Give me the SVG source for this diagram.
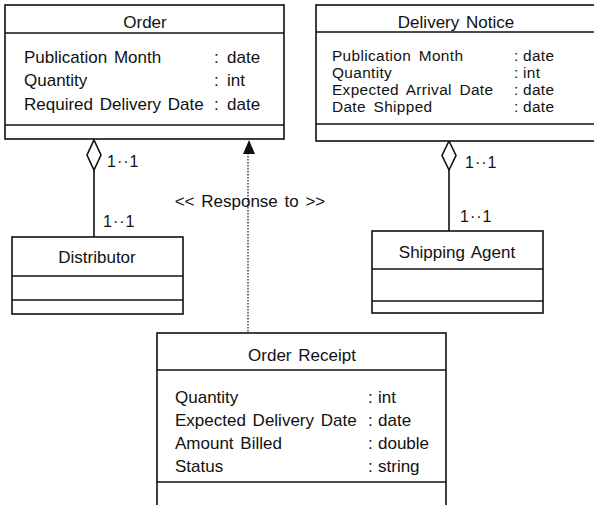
<svg xmlns="http://www.w3.org/2000/svg" width="594" height="505" viewBox="0 0 594 505">
<style>
  .box { fill: #fff; stroke: #111; stroke-width: 1.6; }
  .div { stroke: #111; stroke-width: 1.4; }
  .t { font-family: "Liberation Sans", Arial, sans-serif; font-size: 17px; fill: #111; word-spacing: 2px; }
  .s { font-family: "Liberation Sans", Arial, sans-serif; font-size: 15.4px; fill: #111; word-spacing: 3px; letter-spacing: 0.35px; }
  .c { text-anchor: middle; }
  .m { font-family: "Liberation Sans", Arial, sans-serif; font-size: 16px; fill: #111; letter-spacing: 1px; }
  .line { stroke: #111; stroke-width: 1.6; fill: none; }
  .dot { stroke: #111; stroke-width: 1.2; stroke-dasharray: 1.5 1.5; fill: none; }
  .diamond { fill: #fff; stroke: #111; stroke-width: 1.6; }
</style>
<rect width="594" height="505" fill="#fff"/>

<g id="connectors">
  <line class="line" x1="94" y1="170" x2="94" y2="237"/>
  <polygon class="diamond" points="94,140 101,155 94,170 87,155"/>
  <text class="m" x="107" y="167">1··1</text>
  <text class="m" x="103" y="227">1··1</text>

  <line class="line" x1="449" y1="170" x2="449" y2="231"/>
  <polygon class="diamond" points="449,141 456,155.5 449,170 442,155.5"/>
  <text class="m" x="465" y="168">1··1</text>
  <text class="m" x="460" y="222">1··1</text>

  <line class="dot" x1="248" y1="153" x2="248" y2="333"/>
  <path d="M243,154 L249,140 L255,154 Z" fill="#111"/>
  <text class="t c" x="250" y="207">&lt;&lt; Response to &gt;&gt;</text>
</g>

<g id="order">
  <rect class="box" x="5" y="5" width="279" height="134"/>
  <line class="div" x1="5" y1="33" x2="284" y2="33"/>
  <line class="div" x1="5" y1="125" x2="284" y2="125"/>
  <text class="t c" x="145" y="28">Order</text>
  <text class="t" x="24" y="63">Publication Month</text>
  <text class="t" x="24" y="86">Quantity</text>
  <text class="t" x="24" y="110">Required Delivery Date</text>
  <text class="t" x="214" y="63">:</text>
  <text class="t" x="214" y="86">:</text>
  <text class="t" x="214" y="110">:</text>
  <text class="t" x="227" y="63">date</text>
  <text class="t" x="227" y="86">int</text>
  <text class="t" x="227" y="110">date</text>
</g>

<g id="delivery-notice">
  <rect class="box" x="316" y="5" width="290" height="136"/>
  <line class="div" x1="316" y1="32" x2="606" y2="32"/>
  <line class="div" x1="316" y1="124" x2="606" y2="124"/>
  <text class="t c" x="456" y="28">Delivery Notice</text>
  <text class="s" x="332" y="60.5">Publication Month</text>
  <text class="s" x="332" y="77.8">Quantity</text>
  <text class="s" x="332" y="95.1">Expected Arrival Date</text>
  <text class="s" x="332" y="112.4">Date Shipped</text>
  <text class="s" x="514" y="60.5">:</text>
  <text class="s" x="514" y="77.8">:</text>
  <text class="s" x="514" y="95.1">:</text>
  <text class="s" x="514" y="112.4">:</text>
  <text class="s" x="523" y="60.5">date</text>
  <text class="s" x="523" y="77.8">int</text>
  <text class="s" x="523" y="95.1">date</text>
  <text class="s" x="523" y="112.4">date</text>
</g>

<g id="distributor">
  <rect class="box" x="12" y="237" width="171" height="77"/>
  <line class="div" x1="12" y1="276" x2="183" y2="276"/>
  <line class="div" x1="12" y1="300" x2="183" y2="300"/>
  <text class="t c" x="97" y="263">Distributor</text>
</g>

<g id="shipping-agent">
  <rect class="box" x="372" y="231" width="171" height="82"/>
  <line class="div" x1="372" y1="269" x2="543" y2="269"/>
  <line class="div" x1="372" y1="301" x2="543" y2="301"/>
  <text class="t c" x="457" y="258">Shipping Agent</text>
</g>

<g id="order-receipt">
  <rect class="box" x="157" y="333" width="289" height="180"/>
  <line class="div" x1="157" y1="370" x2="446" y2="370"/>
  <line class="div" x1="157" y1="482" x2="446" y2="482"/>
  <text class="t c" x="302" y="361">Order Receipt</text>
  <text class="t" x="175" y="403">Quantity</text>
  <text class="t" x="175" y="426">Expected Delivery Date</text>
  <text class="t" x="175" y="449">Amount Billed</text>
  <text class="t" x="175" y="472">Status</text>
  <text class="t" x="368" y="403">:</text>
  <text class="t" x="368" y="426">:</text>
  <text class="t" x="368" y="449">:</text>
  <text class="t" x="368" y="472">:</text>
  <text class="t" x="378" y="403">int</text>
  <text class="t" x="378" y="426">date</text>
  <text class="t" x="378" y="449">double</text>
  <text class="t" x="378" y="472">string</text>
</g>
</svg>
